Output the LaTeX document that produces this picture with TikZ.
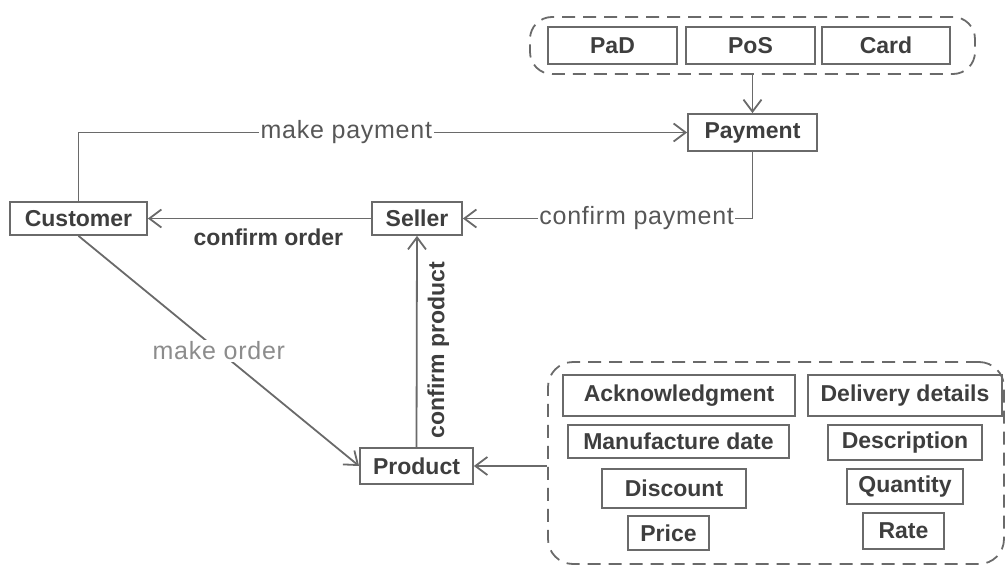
\documentclass[tikz,border=0pt]{standalone}
\usepackage{fontspec}
\setmainfont{Liberation Sans}
\usepackage{tikz}
\usetikzlibrary{arrows.meta}
\definecolor{linegray}{HTML}{6A6A6A}
\definecolor{textgray}{HTML}{3E3E3E}
\definecolor{labelgray}{HTML}{575757}
\definecolor{ordergray}{HTML}{8C8C8C}

\begin{document}
\begin{tikzpicture}[x=1pt,y=-1pt]
  \tikzstyle{every node}=[text=textgray]
  \tikzstyle{box}=[draw=linegray,line width=1.8pt,inner sep=0pt,font=\fontsize{23}{23}\selectfont\bfseries]
  \tikzstyle{group}=[draw=linegray,line width=1.8pt,dash pattern=on 13pt off 8pt,inner sep=0pt]
  \tikzstyle{link}=[draw=linegray,line width=1.8pt,-{Straight Barb[length=12pt,width=18pt]}]
  \tikzstyle{lbl}=[fill=white,inner sep=1.5pt,font=\fontsize{25}{25}\selectfont\addfontfeatures{LetterSpace=3},text=labelgray]
  \tikzstyle{blbl}=[inner sep=1pt,font=\fontsize{23}{23}\selectfont\bfseries]
  \useasboundingbox (0,0) rectangle (1006,567);
  \path (752.5,45.5) node[group,rounded corners=22pt,minimum width=445pt,minimum height=57pt] (opts) {};
  \path (612.5,45.5) node[box,minimum width=129pt,minimum height=37pt] (pad) {PaD};
  \path (750.5,45.5) node[box,minimum width=129pt,minimum height=37pt] (pos) {PoS};
  \path (886,45.5) node[box,minimum width=128pt,minimum height=37pt] (card) {Card};
  \path (752.5,132.5) node[box,minimum width=129pt,minimum height=37pt] (pay) {Payment};
  \path (78.5,218.5) node[box,minimum width=137pt,minimum height=33pt] (cust) {Customer};
  \path (417,218.5) node[box,minimum width=90pt,minimum height=33pt] (sel) {Seller};
  \path (416.5,466) node[box,minimum width=113pt,minimum height=36pt] (prod) {Product};
  \path (776,463) node[group,rounded corners=25pt,minimum width=456pt,minimum height=202pt] (dets) {};
  \path (679,395.5) node[box,minimum width=232pt,minimum height=41pt] (ack) {Acknowledgment};
  \path (678.5,441.5) node[box,minimum width=221pt,minimum height=33pt] (mdate) {Manufacture date};
  \path (674,488.5) node[box,minimum width=144pt,minimum height=39pt] (disc) {Discount};
  \path (668.5,533) node[box,minimum width=81pt,minimum height=34pt] (price) {Price};
  \path (905,395.5) node[box,minimum width=194pt,minimum height=41pt] (deliv) {Delivery details};
  \path (905,442.5) node[box,minimum width=154pt,minimum height=35pt] (descr) {Description};
  \path (905,486.5) node[box,minimum width=116pt,minimum height=35pt] (qty) {Quantity};
  \path (903.5,531) node[box,minimum width=81pt,minimum height=36pt] (rate) {Rate};
  \draw[link] (opts.south) -- (pay.north);
  \draw[link] (cust.north) |- node[lbl,pos=0.72] (lmpay) {make payment} (pay.west);
  \draw[link] (pay.south) |- node[lbl,pos=0.7] (lcpay) {confirm payment} (sel.east);
  \draw[link] (sel.west) -- node[blbl,pos=0.46,below=8pt] (lcord) {confirm order} (cust.east);
  \draw[link] (cust.south) -- node[lbl,text=ordergray,midway] (lmord) {make order} (prod.west);
  \draw[link] (prod.north) -- node[blbl,pos=0.46,sloped,below=9pt] (lcprod) {confirm product} (sel.south);
  \draw[link] (prod.east -| dets.west) -- (prod.east);
\end{tikzpicture}
\end{document}
